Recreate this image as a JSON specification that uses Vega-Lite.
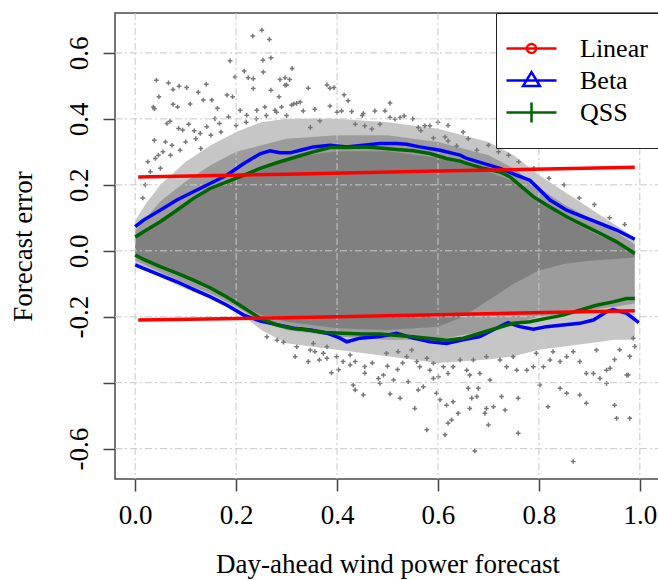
{
  "$schema": "https://vega.github.io/schema/vega-lite/v6.json",
  "width": 545,
  "height": 466,
  "autosize": "none",
  "padding": {"left": 115, "top": 13, "right": 0, "bottom": 101},
  "background": "white",
  "config": {
    "view": {"stroke": "#4a4a4a", "strokeWidth": 1.5},
    "font": "Liberation Serif"
  },
  "datasets": {
    "outer": [
      {"x":0,"y":-0.04,"hi":0.09},{"x":0.02,"y":-0.055,"hi":0.14},{"x":0.05,"y":-0.08,"hi":0.2},{"x":0.1,"y":-0.115,"hi":0.27},
      {"x":0.15,"y":-0.145,"hi":0.32},{"x":0.2,"y":-0.18,"hi":0.36},{"x":0.25,"y":-0.24,"hi":0.39},{"x":0.3,"y":-0.28,"hi":0.4},
      {"x":0.4,"y":-0.3,"hi":0.4},{"x":0.5,"y":-0.32,"hi":0.39},{"x":0.6,"y":-0.34,"hi":0.37},{"x":0.7,"y":-0.33,"hi":0.33},
      {"x":0.75,"y":-0.32,"hi":0.29},{"x":0.8,"y":-0.3,"hi":0.23},{"x":0.85,"y":-0.29,"hi":0.18},{"x":0.9,"y":-0.28,"hi":0.13},
      {"x":0.95,"y":-0.27,"hi":0.08},{"x":0.99,"y":-0.27,"hi":0.04}
    ],
    "mid": [
      {"x":0,"y":-0.03,"hi":0.06},{"x":0.05,"y":-0.065,"hi":0.15},{"x":0.1,"y":-0.1,"hi":0.21},{"x":0.15,"y":-0.13,"hi":0.26},
      {"x":0.2,"y":-0.17,"hi":0.3},{"x":0.25,"y":-0.215,"hi":0.32},{"x":0.3,"y":-0.24,"hi":0.34},{"x":0.4,"y":-0.26,"hi":0.35},
      {"x":0.5,"y":-0.27,"hi":0.35},{"x":0.6,"y":-0.27,"hi":0.33},{"x":0.7,"y":-0.24,"hi":0.29},{"x":0.75,"y":-0.22,"hi":0.25},
      {"x":0.8,"y":-0.2,"hi":0.19},{"x":0.85,"y":-0.19,"hi":0.14},{"x":0.9,"y":-0.18,"hi":0.1},{"x":0.95,"y":-0.17,"hi":0.06},
      {"x":0.99,"y":-0.16,"hi":0.02}
    ],
    "core": [
      {"x":0,"y":-0.02,"hi":0.045},{"x":0.02,"y":-0.03,"hi":0.06},{"x":0.05,"y":-0.05,"hi":0.09},{"x":0.1,"y":-0.085,"hi":0.145},
      {"x":0.15,"y":-0.115,"hi":0.19},{"x":0.2,"y":-0.155,"hi":0.222},{"x":0.25,"y":-0.195,"hi":0.25},{"x":0.3,"y":-0.215,"hi":0.275},
      {"x":0.35,"y":-0.225,"hi":0.292},{"x":0.4,"y":-0.235,"hi":0.302},{"x":0.5,"y":-0.24,"hi":0.302},{"x":0.6,"y":-0.23,"hi":0.282},
      {"x":0.65,"y":-0.2,"hi":0.265},{"x":0.7,"y":-0.15,"hi":0.24},{"x":0.75,"y":-0.1,"hi":0.21},{"x":0.8,"y":-0.06,"hi":0.15},
      {"x":0.85,"y":-0.04,"hi":0.1},{"x":0.9,"y":-0.03,"hi":0.06},{"x":0.95,"y":-0.025,"hi":0.025},{"x":0.99,"y":-0.02,"hi":-0.005}
    ],
    "pts": [
      {"x":0.233,"y":0.651},{"x":0.251,"y":0.669},{"x":0.266,"y":0.641},{"x":0.188,"y":0.576},{"x":0.253,"y":0.578},{"x":0.269,"y":0.585},
      {"x":0.216,"y":0.545},{"x":0.224,"y":0.525},{"x":0.234,"y":0.522},{"x":0.254,"y":0.542},{"x":0.311,"y":0.553},{"x":0.198,"y":0.527},
      {"x":0.042,"y":0.517},{"x":0.066,"y":0.509},{"x":0.047,"y":0.467},{"x":0.075,"y":0.489},{"x":0.087,"y":0.499},{"x":0.102,"y":0.495},
      {"x":0.125,"y":0.481},{"x":0.141,"y":0.505},{"x":0.036,"y":0.436},{"x":0.038,"y":0.431},{"x":0.075,"y":0.444},{"x":0.084,"y":0.436},
      {"x":0.109,"y":0.445},{"x":0.135,"y":0.457},{"x":0.152,"y":0.457},{"x":0.163,"y":0.432},{"x":0.182,"y":0.472},{"x":0.193,"y":0.467},
      {"x":0.234,"y":0.492},{"x":0.269,"y":0.487},{"x":0.287,"y":0.519},{"x":0.297,"y":0.502},{"x":0.306,"y":0.519},{"x":0.285,"y":0.467},
      {"x":0.31,"y":0.442},{"x":0.32,"y":0.447},{"x":0.038,"y":0.335},{"x":0.063,"y":0.386},{"x":0.069,"y":0.393},{"x":0.086,"y":0.371},
      {"x":0.106,"y":0.384},{"x":0.117,"y":0.364},{"x":0.129,"y":0.356},{"x":0.142,"y":0.376},{"x":0.158,"y":0.401},{"x":0.167,"y":0.386},
      {"x":0.185,"y":0.406},{"x":0.208,"y":0.426},{"x":0.221,"y":0.411},{"x":0.241,"y":0.426},{"x":0.257,"y":0.436},{"x":0.277,"y":0.426},
      {"x":0.29,"y":0.436},{"x":0.046,"y":0.29},{"x":0.073,"y":0.32},{"x":0.089,"y":0.305},{"x":0.094,"y":0.366},
      {"x":0.297,"y":0.525},{"x":0.3,"y":0.503},{"x":0.343,"y":0.493},{"x":0.38,"y":0.503},{"x":0.386,"y":0.493},{"x":0.394,"y":0.495},
      {"x":0.414,"y":0.473},{"x":0.422,"y":0.455},{"x":0.505,"y":0.448},{"x":0.314,"y":0.445},{"x":0.327,"y":0.451},{"x":0.333,"y":0.424},
      {"x":0.356,"y":0.429},{"x":0.386,"y":0.439},{"x":0.409,"y":0.424},{"x":0.429,"y":0.422},{"x":0.452,"y":0.416},{"x":0.475,"y":0.424},
      {"x":0.495,"y":0.424},{"x":0.505,"y":0.404},{"x":0.515,"y":0.399},{"x":0.525,"y":0.404},{"x":0.533,"y":0.409},{"x":0.561,"y":0.374},
      {"x":0.574,"y":0.379},{"x":0.584,"y":0.379},{"x":0.566,"y":0.364},{"x":0.591,"y":0.342},{"x":0.614,"y":0.345},{"x":0.62,"y":0.333},
      {"x":0.637,"y":0.318},{"x":0.677,"y":0.305},{"x":0.436,"y":0.384},{"x":0.455,"y":0.379},{"x":0.469,"y":0.369},{"x":0.485,"y":0.384},
      {"x":0.366,"y":0.394},{"x":0.347,"y":0.374},
      {"x":0.02,"y":0.2},{"x":0.03,"y":0.24},{"x":0.015,"y":0.16},{"x":0.04,"y":0.28},{"x":0.055,"y":0.3},{"x":0.06,"y":0.33},
      {"x":0.025,"y":0.27},{"x":0.05,"y":0.25},{"x":0.07,"y":0.29},{"x":0.1,"y":0.33},{"x":0.12,"y":0.34},{"x":0.13,"y":0.31},
      {"x":0.15,"y":0.35},{"x":0.17,"y":0.36},{"x":0.2,"y":0.38},{"x":0.22,"y":0.39},{"x":0.24,"y":0.4},{"x":0.26,"y":0.41},
      {"x":0.28,"y":0.42},{"x":0.3,"y":0.41},
      {"x":0.66,"y":0.34},{"x":0.7,"y":0.32},{"x":0.72,"y":0.3},{"x":0.74,"y":0.29},{"x":0.76,"y":0.27},{"x":0.79,"y":0.25},
      {"x":0.82,"y":0.22},{"x":0.85,"y":0.2},{"x":0.88,"y":0.16},{"x":0.91,"y":0.14},{"x":0.94,"y":0.1},{"x":0.97,"y":0.08},
      {"x":0.65,"y":0.36},{"x":0.62,"y":0.38},{"x":0.6,"y":0.39},{"x":0.55,"y":0.4},{"x":0.45,"y":0.41},{"x":0.4,"y":0.42},
      {"x":0.317,"y":-0.321},{"x":0.343,"y":-0.336},{"x":0.356,"y":-0.306},{"x":0.365,"y":-0.331},{"x":0.38,"y":-0.326},{"x":0.389,"y":-0.37},
      {"x":0.403,"y":-0.361},{"x":0.412,"y":-0.336},{"x":0.426,"y":-0.346},{"x":0.436,"y":-0.336},{"x":0.455,"y":-0.351},{"x":0.455,"y":-0.371},
      {"x":0.432,"y":-0.407},{"x":0.436,"y":-0.422},{"x":0.452,"y":-0.437},{"x":0.482,"y":-0.387},{"x":0.261,"y":-0.261},{"x":0.281,"y":-0.271},
      {"x":0.294,"y":-0.277},{"x":0.32,"y":-0.291},{"x":0.347,"y":-0.301},{"x":0.373,"y":-0.311},{"x":0.399,"y":-0.321},{"x":0.426,"y":-0.316},
      {"x":0.353,"y":-0.281},{"x":0.38,"y":-0.291},
      {"x":0.498,"y":-0.311},{"x":0.521,"y":-0.306},{"x":0.538,"y":-0.321},{"x":0.548,"y":-0.301},{"x":0.558,"y":-0.336},{"x":0.564,"y":-0.352},
      {"x":0.578,"y":-0.326},{"x":0.584,"y":-0.362},{"x":0.591,"y":-0.341},{"x":0.601,"y":-0.382},{"x":0.611,"y":-0.352},{"x":0.62,"y":-0.372},
      {"x":0.63,"y":-0.352},{"x":0.644,"y":-0.331},{"x":0.657,"y":-0.362},{"x":0.663,"y":-0.377},{"x":0.67,"y":-0.331},{"x":0.683,"y":-0.372},
      {"x":0.696,"y":-0.321},{"x":0.703,"y":-0.392},{"x":0.723,"y":-0.331},{"x":0.736,"y":-0.352},{"x":0.749,"y":-0.321},{"x":0.756,"y":-0.362},
      {"x":0.776,"y":-0.362},{"x":0.789,"y":-0.352},{"x":0.795,"y":-0.311},{"x":0.809,"y":-0.352},{"x":0.822,"y":-0.331},{"x":0.828,"y":-0.306},
      {"x":0.842,"y":-0.336},{"x":0.855,"y":-0.321},{"x":0.868,"y":-0.306},{"x":0.881,"y":-0.336},{"x":0.894,"y":-0.372},{"x":0.908,"y":-0.372},
      {"x":0.914,"y":-0.301},{"x":0.921,"y":-0.387},{"x":0.934,"y":-0.362},{"x":0.941,"y":-0.356},{"x":0.974,"y":-0.377},{"x":0.987,"y":-0.265},
      {"x":0.505,"y":-0.434},{"x":0.525,"y":-0.447},{"x":0.554,"y":-0.478},{"x":0.561,"y":-0.422},{"x":0.578,"y":-0.543},{"x":0.597,"y":-0.432},
      {"x":0.604,"y":-0.452},{"x":0.617,"y":-0.468},{"x":0.62,"y":-0.523},{"x":0.614,"y":-0.558},{"x":0.627,"y":-0.513},{"x":0.64,"y":-0.493},
      {"x":0.63,"y":-0.458},{"x":0.66,"y":-0.417},{"x":0.663,"y":-0.478},{"x":0.667,"y":-0.447},{"x":0.677,"y":-0.442},{"x":0.68,"y":-0.417},
      {"x":0.696,"y":-0.478},{"x":0.693,"y":-0.493},{"x":0.7,"y":-0.528},{"x":0.71,"y":-0.473},{"x":0.726,"y":-0.442},{"x":0.733,"y":-0.483},
      {"x":0.759,"y":-0.447},{"x":0.759,"y":-0.553},{"x":0.802,"y":-0.407},{"x":0.818,"y":-0.473},{"x":0.842,"y":-0.417},{"x":0.855,"y":-0.432},
      {"x":0.881,"y":-0.437},{"x":0.894,"y":-0.462},{"x":0.934,"y":-0.402},{"x":0.95,"y":-0.468},{"x":0.954,"y":-0.508},{"x":0.98,"y":-0.508},
      {"x":0.977,"y":-0.377},{"x":0.673,"y":-0.607},{"x":0.868,"y":-0.639},{"x":0.485,"y":-0.402},{"x":0.512,"y":-0.392},{"x":0.541,"y":-0.397},
      {"x":0.591,"y":-0.387},{"x":0.571,"y":-0.412},{"x":0.492,"y":-0.377},
      {"x":0.96,"y":-0.3},{"x":0.98,"y":-0.32},{"x":0.99,"y":-0.29},{"x":0.95,"y":-0.33},{"x":0.47,"y":-0.34},{"x":0.5,"y":-0.35},
      {"x":0.52,"y":-0.36},{"x":0.53,"y":-0.34}
    ],
    "gx": [{"x":0},{"x":0.2},{"x":0.4},{"x":0.6},{"x":0.8},{"x":1.0}],
    "gy": [{"y":-0.6},{"y":-0.4},{"y":-0.2},{"y":0},{"y":0.2},{"y":0.4},{"y":0.6}],
    "lines": [
      {"model":"Linear","bound":"up","x":0.006,"y":0.224},{"model":"Linear","bound":"up","x":0.3,"y":0.232},{"model":"Linear","bound":"up","x":0.6,"y":0.242},{"model":"Linear","bound":"up","x":0.99,"y":0.253},
      {"model":"Linear","bound":"lo","x":0.006,"y":-0.21},{"model":"Linear","bound":"lo","x":0.3,"y":-0.203},{"model":"Linear","bound":"lo","x":0.6,"y":-0.194},{"model":"Linear","bound":"lo","x":0.99,"y":-0.182},
      {"model":"Beta","bound":"up","x":0,"y":0.073},{"model":"Beta","bound":"up","x":0.0165,"y":0.093},{"model":"Beta","bound":"up","x":0.0495,"y":0.123},
      {"model":"Beta","bound":"up","x":0.0826,"y":0.154},{"model":"Beta","bound":"up","x":0.1155,"y":0.179},{"model":"Beta","bound":"up","x":0.1485,"y":0.204},
      {"model":"Beta","bound":"up","x":0.1815,"y":0.229},{"model":"Beta","bound":"up","x":0.2145,"y":0.264},{"model":"Beta","bound":"up","x":0.2475,"y":0.294},
      {"model":"Beta","bound":"up","x":0.267,"y":0.303},{"model":"Beta","bound":"up","x":0.287,"y":0.297},{"model":"Beta","bound":"up","x":0.307,"y":0.297},
      {"model":"Beta","bound":"up","x":0.327,"y":0.305},{"model":"Beta","bound":"up","x":0.353,"y":0.315},{"model":"Beta","bound":"up","x":0.386,"y":0.32},
      {"model":"Beta","bound":"up","x":0.419,"y":0.315},{"model":"Beta","bound":"up","x":0.452,"y":0.32},{"model":"Beta","bound":"up","x":0.485,"y":0.325},
      {"model":"Beta","bound":"up","x":0.518,"y":0.325},{"model":"Beta","bound":"up","x":0.538,"y":0.323},{"model":"Beta","bound":"up","x":0.564,"y":0.315},
      {"model":"Beta","bound":"up","x":0.604,"y":0.305},{"model":"Beta","bound":"up","x":0.644,"y":0.29},{"model":"Beta","bound":"up","x":0.657,"y":0.28},
      {"model":"Beta","bound":"up","x":0.69,"y":0.265},{"model":"Beta","bound":"up","x":0.723,"y":0.25},{"model":"Beta","bound":"up","x":0.756,"y":0.229},
      {"model":"Beta","bound":"up","x":0.782,"y":0.214},{"model":"Beta","bound":"up","x":0.802,"y":0.184},{"model":"Beta","bound":"up","x":0.822,"y":0.154},
      {"model":"Beta","bound":"up","x":0.855,"y":0.123},{"model":"Beta","bound":"up","x":0.888,"y":0.103},{"model":"Beta","bound":"up","x":0.921,"y":0.083},
      {"model":"Beta","bound":"up","x":0.954,"y":0.063},{"model":"Beta","bound":"up","x":0.99,"y":0.035},
      {"model":"Beta","bound":"lo","x":0,"y":-0.043},{"model":"Beta","bound":"lo","x":0.0165,"y":-0.053},{"model":"Beta","bound":"lo","x":0.0495,"y":-0.074},
      {"model":"Beta","bound":"lo","x":0.0826,"y":-0.094},{"model":"Beta","bound":"lo","x":0.1155,"y":-0.117},{"model":"Beta","bound":"lo","x":0.149,"y":-0.14},
      {"model":"Beta","bound":"lo","x":0.182,"y":-0.165},{"model":"Beta","bound":"lo","x":0.215,"y":-0.195},{"model":"Beta","bound":"lo","x":0.248,"y":-0.213},
      {"model":"Beta","bound":"lo","x":0.281,"y":-0.224},{"model":"Beta","bound":"lo","x":0.314,"y":-0.235},{"model":"Beta","bound":"lo","x":0.347,"y":-0.24},
      {"model":"Beta","bound":"lo","x":0.38,"y":-0.25},{"model":"Beta","bound":"lo","x":0.406,"y":-0.265},{"model":"Beta","bound":"lo","x":0.419,"y":-0.276},
      {"model":"Beta","bound":"lo","x":0.446,"y":-0.265},{"model":"Beta","bound":"lo","x":0.485,"y":-0.26},{"model":"Beta","bound":"lo","x":0.518,"y":-0.25},
      {"model":"Beta","bound":"lo","x":0.551,"y":-0.265},{"model":"Beta","bound":"lo","x":0.584,"y":-0.276},{"model":"Beta","bound":"lo","x":0.617,"y":-0.281},
      {"model":"Beta","bound":"lo","x":0.65,"y":-0.27},{"model":"Beta","bound":"lo","x":0.683,"y":-0.26},{"model":"Beta","bound":"lo","x":0.716,"y":-0.235},
      {"model":"Beta","bound":"lo","x":0.739,"y":-0.218},{"model":"Beta","bound":"lo","x":0.762,"y":-0.23},{"model":"Beta","bound":"lo","x":0.789,"y":-0.238},
      {"model":"Beta","bound":"lo","x":0.815,"y":-0.23},{"model":"Beta","bound":"lo","x":0.848,"y":-0.225},{"model":"Beta","bound":"lo","x":0.881,"y":-0.22},
      {"model":"Beta","bound":"lo","x":0.908,"y":-0.21},{"model":"Beta","bound":"lo","x":0.934,"y":-0.185},{"model":"Beta","bound":"lo","x":0.947,"y":-0.178},
      {"model":"Beta","bound":"lo","x":0.974,"y":-0.19},{"model":"Beta","bound":"lo","x":0.998,"y":-0.218},
      {"model":"QSS","bound":"up","x":0,"y":0.042},{"model":"QSS","bound":"up","x":0.0165,"y":0.058},{"model":"QSS","bound":"up","x":0.0495,"y":0.088},
      {"model":"QSS","bound":"up","x":0.0826,"y":0.123},{"model":"QSS","bound":"up","x":0.1155,"y":0.159},{"model":"QSS","bound":"up","x":0.1485,"y":0.189},
      {"model":"QSS","bound":"up","x":0.1815,"y":0.209},{"model":"QSS","bound":"up","x":0.2145,"y":0.229},{"model":"QSS","bound":"up","x":0.2475,"y":0.25},
      {"model":"QSS","bound":"up","x":0.2806,"y":0.267},{"model":"QSS","bound":"up","x":0.32,"y":0.285},{"model":"QSS","bound":"up","x":0.353,"y":0.3},
      {"model":"QSS","bound":"up","x":0.386,"y":0.313},{"model":"QSS","bound":"up","x":0.419,"y":0.313},{"model":"QSS","bound":"up","x":0.452,"y":0.315},
      {"model":"QSS","bound":"up","x":0.485,"y":0.312},{"model":"QSS","bound":"up","x":0.518,"y":0.307},{"model":"QSS","bound":"up","x":0.551,"y":0.303},
      {"model":"QSS","bound":"up","x":0.584,"y":0.295},{"model":"QSS","bound":"up","x":0.617,"y":0.28},{"model":"QSS","bound":"up","x":0.644,"y":0.272},
      {"model":"QSS","bound":"up","x":0.657,"y":0.265},{"model":"QSS","bound":"up","x":0.69,"y":0.25},{"model":"QSS","bound":"up","x":0.723,"y":0.239},
      {"model":"QSS","bound":"up","x":0.743,"y":0.224},{"model":"QSS","bound":"up","x":0.762,"y":0.199},{"model":"QSS","bound":"up","x":0.789,"y":0.164},
      {"model":"QSS","bound":"up","x":0.822,"y":0.133},{"model":"QSS","bound":"up","x":0.855,"y":0.103},{"model":"QSS","bound":"up","x":0.888,"y":0.078},
      {"model":"QSS","bound":"up","x":0.921,"y":0.053},{"model":"QSS","bound":"up","x":0.954,"y":0.027},{"model":"QSS","bound":"up","x":0.99,"y":-0.008},
      {"model":"QSS","bound":"lo","x":0,"y":-0.013},{"model":"QSS","bound":"lo","x":0.0165,"y":-0.026},{"model":"QSS","bound":"lo","x":0.0495,"y":-0.048},
      {"model":"QSS","bound":"lo","x":0.0826,"y":-0.068},{"model":"QSS","bound":"lo","x":0.1155,"y":-0.089},{"model":"QSS","bound":"lo","x":0.1485,"y":-0.112},
      {"model":"QSS","bound":"lo","x":0.1815,"y":-0.14},{"model":"QSS","bound":"lo","x":0.2145,"y":-0.172},{"model":"QSS","bound":"lo","x":0.248,"y":-0.205},
      {"model":"QSS","bound":"lo","x":0.2806,"y":-0.225},{"model":"QSS","bound":"lo","x":0.31,"y":-0.235},{"model":"QSS","bound":"lo","x":0.343,"y":-0.24},
      {"model":"QSS","bound":"lo","x":0.377,"y":-0.248},{"model":"QSS","bound":"lo","x":0.412,"y":-0.25},{"model":"QSS","bound":"lo","x":0.45,"y":-0.252},
      {"model":"QSS","bound":"lo","x":0.485,"y":-0.252},{"model":"QSS","bound":"lo","x":0.551,"y":-0.261},{"model":"QSS","bound":"lo","x":0.617,"y":-0.271},
      {"model":"QSS","bound":"lo","x":0.65,"y":-0.265},{"model":"QSS","bound":"lo","x":0.683,"y":-0.25},{"model":"QSS","bound":"lo","x":0.716,"y":-0.235},
      {"model":"QSS","bound":"lo","x":0.749,"y":-0.22},{"model":"QSS","bound":"lo","x":0.782,"y":-0.215},{"model":"QSS","bound":"lo","x":0.815,"y":-0.205},
      {"model":"QSS","bound":"lo","x":0.848,"y":-0.195},{"model":"QSS","bound":"lo","x":0.881,"y":-0.18},{"model":"QSS","bound":"lo","x":0.914,"y":-0.165},
      {"model":"QSS","bound":"lo","x":0.947,"y":-0.155},{"model":"QSS","bound":"lo","x":0.974,"y":-0.145},{"model":"QSS","bound":"lo","x":0.99,"y":-0.145}
    ]
  },
  "encoding": {
    "x": {"field": "x", "type": "quantitative", "scale": {"domain": [-0.04, 1.04], "nice": false, "zero": false},
      "axis": {"values": [0, 0.2, 0.4, 0.6, 0.8, 1.0], "format": ".1f", "grid": false, "domain": false,
        "tickSize": 12, "tickColor": "#444", "tickWidth": 1.5,
        "labelFont": "Liberation Serif", "labelFontSize": 27, "labelColor": "#000", "labelFlush": false, "labelOverlap": false,
        "labelPadding": 11,
        "title": "Day-ahead wind power forecast", "titleFont": "Liberation Serif", "titleFontSize": 27,
        "titleFontWeight": "normal", "titleColor": "#000", "titlePadding": 23}},
    "y": {"field": "y", "type": "quantitative", "scale": {"domain": [-0.692, 0.721], "nice": false, "zero": false},
      "axis": {"values": [-0.6, -0.4, -0.2, 0, 0.2, 0.4, 0.6],
        "labelExpr": "abs(datum.value+0.4)<0.001 ? '' : (datum.value < -0.001 ? '-' : '') + format(abs(datum.value), '.1f')",
        "grid": false, "domain": false, "tickSize": 12, "tickColor": "#444", "tickWidth": 1.5,
        "labelAngle": -90, "labelAlign": "center", "labelBaseline": "bottom", "labelPadding": 10,
        "labelFont": "Liberation Serif", "labelFontSize": 27, "labelColor": "#000", "labelFlush": false, "labelOverlap": false,
        "title": "Forecast error", "titleFont": "Liberation Serif", "titleFontSize": 27,
        "titleFontWeight": "normal", "titleColor": "#000", "titlePadding": 28}}
  },
  "layer": [
    {"data": {"name": "outer"}, "mark": {"type": "area", "color": "#808080", "opacity": 0.45}, "encoding": {"y2": {"field": "hi"}}},
    {"data": {"name": "mid"}, "mark": {"type": "area", "color": "#808080", "opacity": 0.6}, "encoding": {"y2": {"field": "hi"}}},
    {"data": {"name": "core"}, "mark": {"type": "area", "color": "#808080", "opacity": 1}, "encoding": {"y2": {"field": "hi"}}},
    {"data": {"name": "pts"},
      "mark": {"type": "point", "shape": "M-1,0H1M0,-1V1", "size": 22, "filled": false, "color": "#787878", "strokeWidth": 1.5, "opacity": 1}},
    {"data": {"name": "gx"}, "mark": {"type": "rule", "color": "#c8c8c8", "strokeWidth": 1, "strokeDash": [7, 3, 2, 3]},
      "encoding": {"y": {"value": 0}, "y2": {"value": 466}}},
    {"data": {"name": "gy"}, "mark": {"type": "rule", "color": "#c8c8c8", "strokeWidth": 1, "strokeDash": [7, 3, 2, 3]},
      "encoding": {"x": {"value": 0}, "x2": {"value": 545}}},
    {"data": {"name": "lines"}, "transform": [{"filter": "datum.model == 'Beta'"}],
      "mark": {"type": "line", "strokeWidth": 3.5, "color": "#0000ff"}, "encoding": {"detail": {"field": "bound"}}},
    {"data": {"name": "lines"}, "transform": [{"filter": "datum.model == 'QSS'"}],
      "mark": {"type": "line", "strokeWidth": 3.5, "color": "#006400"}, "encoding": {"detail": {"field": "bound"}}},
    {"data": {"name": "lines"}, "transform": [{"filter": "datum.model == 'Linear'"}],
      "mark": {"type": "line", "strokeWidth": 3.5, "color": "#ff0000"}, "encoding": {"detail": {"field": "bound"}}},
    {"data": {"name": "lines"}, "transform": [{"filter": "datum.x > 5"}],
      "mark": {"type": "point", "filled": false, "strokeWidth": 2.5, "opacity": 1},
      "encoding": {
        "color": {"field": "model", "type": "nominal", "scale": {"domain": ["Linear", "Beta", "QSS"], "range": ["#ff0000", "#0000ff", "#006400"]},
          "legend": {"title": null, "orient": "none", "legendX": 381, "legendY": 0, "fillColor": "white", "strokeColor": "#222",
            "padding": 20, "symbolSize": 784, "symbolStrokeWidth": 2.5, "labelFont": "Liberation Serif", "labelFontSize": 26,
            "labelColor": "#000", "labelOffset": 33, "rowPadding": 3, "labelLimit": 300}},
        "shape": {"field": "model", "type": "nominal",
          "scale": {"domain": ["Linear", "Beta", "QSS"], "range": [
            "M-1.786,0H1.786M-0.32,0A0.32,0.32 0 1,0 0.32,0A0.32,0.32 0 1,0 -0.32,0",
            "M-1.786,0H1.786M0,-0.6L0.6,0.4L-0.6,0.4Z",
            "M-1.786,0H1.786M0,-0.71V0.71"]},
          "legend": {"title": null, "orient": "none", "legendX": 381, "legendY": 0, "fillColor": "white", "strokeColor": "#222",
            "padding": 20, "symbolSize": 784, "symbolStrokeWidth": 2.5, "labelFont": "Liberation Serif", "labelFontSize": 26,
            "labelColor": "#000", "labelOffset": 33, "rowPadding": 3, "labelLimit": 300}}
      }
    }
  ]
}
